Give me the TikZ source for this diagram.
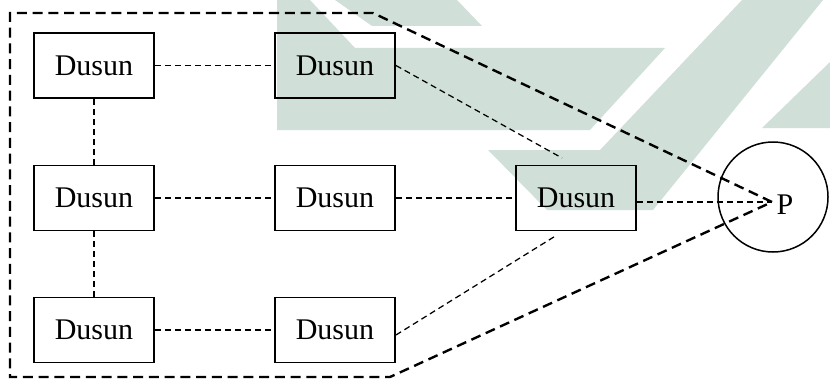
\documentclass[tikz,border=0pt]{standalone}
\usepackage{fontspec}
\setmainfont{Liberation Serif}
\definecolor{wmark}{RGB}{208,224,216}
\begin{document}
\begin{tikzpicture}
    [x=0.4pt,y=-0.4pt,inner sep=0pt,
     dusun/.style={rectangle,draw,line width=0.75pt,minimum width=48pt,minimum height=26pt,font=\fontsize{12}{14}\selectfont},
     link/.style={line width=0.5pt,dash pattern=on 2.4pt off 1.6pt},
     frame/.style={line width=0.95pt,dash pattern=on 4pt off 2.3pt}]

    \useasboundingbox (0,0) rectangle (830,379);

    % watermark:
    \fill [wmark] (277,0) -- (310,0) -- (355,48) -- (665,48) -- (590,130) -- (277,130) -- cycle;
    \fill [wmark] (335,0) -- (457,0) -- (482,26) -- (372,26) -- cycle;
    \fill [wmark] (742,0) -- (823,0) -- (653,210) -- (547,210) -- (488,150) -- (600,150) -- cycle;
    \fill [wmark] (830,62) -- (830,128) -- (762,128) -- cycle;

    % left column:
    \node (d1) at (94, 65.5) [dusun] {Dusun};
    \node (d3) at (94, 198) [dusun] {Dusun};
    \node (d6) at (94, 330) [dusun] {Dusun};

    % middle column:
    \node (d2) at (335, 65.5) [dusun] {Dusun};
    \node (d4) at (335, 198) [dusun] {Dusun};
    \node (d7) at (335, 330) [dusun] {Dusun};

    % right dusun:
    \node (d5) at (576, 198) [dusun] {Dusun};

    % P:
    \node (ring) at (773, 197) [circle,draw,line width=0.6pt,minimum size=44pt] {};
    \node (p) at (785, 205) [font=\fontsize{12}{14}\selectfont] {P};
    \coordinate (pt) at (772, 202);

    % ends near the right dusun:
    \coordinate (t5) at (562, 158);
    \coordinate (u5) at (557, 235);

    % corners of the frame:
    \coordinate (ftr) at (373, 13);
    \coordinate (ftl) at (10, 13);
    \coordinate (fbl) at (10, 377);
    \coordinate (fbr) at (390, 377);

    % connect nodes:
    \draw [link] (d1) to (d2);
    \draw [link] (d1) to (d3);
    \draw [link] (d3) to (d6);
    \draw [link] (d3) to (d4);
    \draw [link] (d4) to (d5);
    \draw [link] (d6) to (d7);
    \draw [link] (d2.east) to (t5);
    \draw [link] ([yshift=-2pt]d7.east) to (u5);
    \draw [link] (d5.east |- pt) to (pt);

    % frame:
    \draw [frame] (pt) -- (ftr) -- (ftl) -- (fbl) -- (fbr) -- cycle;

  \end{tikzpicture}
\end{document}
